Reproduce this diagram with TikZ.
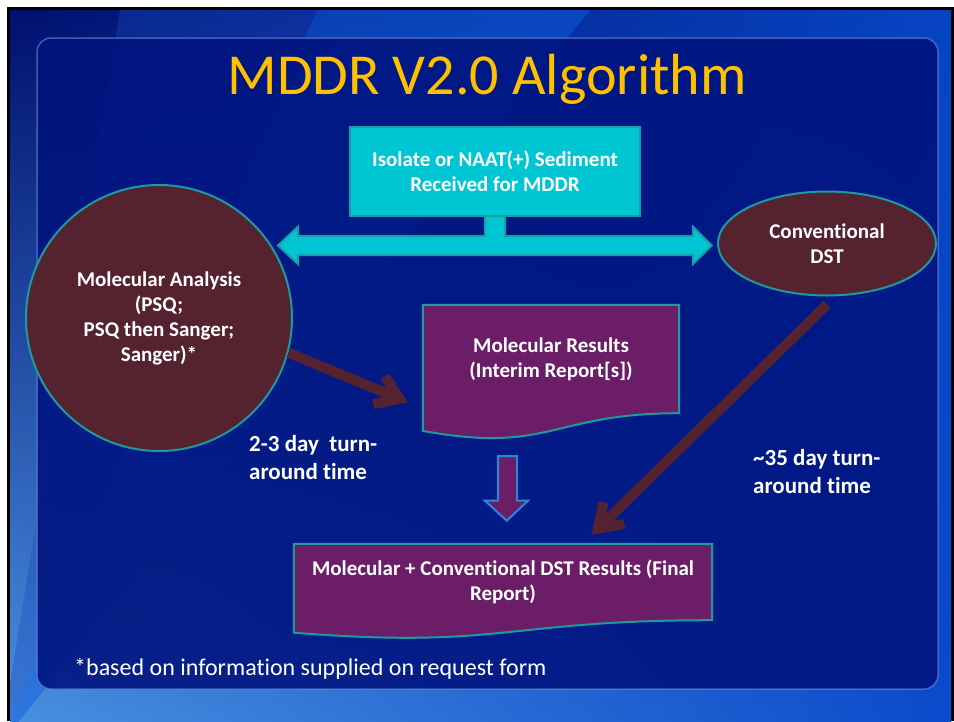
\documentclass[tikz,border=0pt]{standalone}
\usepackage{fontspec}
\setmainfont{Carlito}[Ligatures=NoCommon]
\usetikzlibrary{arrows.meta,calc,shapes.geometric,shadings}
\pgfdeclarelayer{slide}
\pgfdeclarelayer{shapes}
\pgfsetlayers{slide,shapes,main}
\definecolor{navy}{HTML}{00106E}
\definecolor{bgur}{HTML}{0744C4}
\definecolor{bgll}{HTML}{4A90E0}
\definecolor{bglr}{HTML}{0B4ACB}
\definecolor{innerblue}{HTML}{00137E}
\definecolor{edgeblue}{HTML}{6A88D8}
\definecolor{gold}{HTML}{FFC000}
\definecolor{cyanbox}{HTML}{00C5D3}
\definecolor{cyanedge}{HTML}{1A9EA8}
\definecolor{maroon}{HTML}{55222F}
\definecolor{plum}{HTML}{6B1D68}
\definecolor{tealedge}{HTML}{1C9AA2}
\definecolor{bluedge}{HTML}{2A86D8}
\definecolor{rayA}{HTML}{1A4AC0}
\definecolor{rayB}{HTML}{1060E0}
\tikzset{
  boldtxt/.style={font=\fontsize{21}{25}\selectfont\bfseries, text=white, align=center, inner sep=0pt},
  timetxt/.style={font=\fontsize{23}{28}\selectfont\bfseries, text=white, inner sep=0pt, anchor=base west},
  shapeedge/.style={draw=tealedge, line width=2pt},
  bigarrow/.style={draw=maroon, line width=10pt, -{Straight Barb[length=22pt, width=30pt]}},
}
\begin{document}
\begin{tikzpicture}[x=1pt, y=-1pt]
\useasboundingbox (0,0) rectangle (954,721);
\begin{pgfonlayer}{slide}
  \fill[white] (0,0) rectangle (954,721);
  \fill[black] (7,7) rectangle (954,721);
  \shade[upper left=navy, upper right=bgur, lower left=bgll, lower right=bglr]
        (10,10) rectangle (951,721);
  \begin{scope}
    \clip (10,10) rectangle (951,721);
    \fill[rayA, opacity=0.35] (0,745) -- (120,10) -- (317,10) -- cycle;
    \fill[rayB, opacity=0.5] (0,745) -- (317,10) -- (590,10) -- cycle;
  \end{scope}
  \draw[rounded corners=14pt, fill=innerblue, fill opacity=0.88, draw=edgeblue, draw opacity=0.6, line width=1.5pt]
        (37,38) rectangle (938,689);
\end{pgfonlayer}

\node[font=\fontsize{58}{70}\selectfont, text=gold, anchor=base, inner sep=0pt] (title) at (487,94) {MDDR V2.0 Algorithm};

\node[boldtxt, draw=cyanedge, fill=cyanbox, line width=2pt, minimum width=290pt, minimum height=89pt] (src) at (495,171.5)
  {Isolate or NAAT(+) Sediment\\Received for MDDR};

\node[boldtxt, circle, shapeedge, fill=maroon, minimum size=266pt] (ma) at (159,318)
  {Molecular Analysis\\(PSQ;\\PSQ then Sanger;\\Sanger)*};

\node[boldtxt, ellipse, shapeedge, fill=maroon, minimum width=218pt, minimum height=104pt] (cd) at (827,243.5)
  {Conventional\\DST};

\node[boldtxt, minimum width=256pt, minimum height=108pt] (mr) at (551,359)
  {Molecular Results\\(Interim Report[s])};

\node[boldtxt, minimum width=418pt, minimum height=76pt] (fin) at (503,582)
  {Molecular + Conventional DST Results (Final\\Report)};

\begin{pgfonlayer}{shapes}
  \path[fill=plum, shapeedge] (mr.north west) -- (mr.north east) -- (mr.south east)
    .. controls (mr.south) and ($(mr.south)+(0,41)$) .. ($(mr.south west)+(0,17.7)$) -- cycle;
  \path[fill=plum, shapeedge] (fin.north west) -- (fin.north east) -- (fin.south east)
    .. controls (fin.south) and ($(fin.south)+(0,29)$) .. ($(fin.south west)+(0,12.5)$) -- cycle;
  % cyan stem and double arrow
  \path[fill=cyanbox, draw=cyanedge, line width=2pt]
    (485,216) -- (485,236) -- (298,236) -- (298,226.7) -- (278,245.5) -- (298,264) -- (298,255)
    -- (693,255) -- (693,264) -- (711.7,245.5) -- (693,226.7) -- (693,236) -- (505,236) -- (505,216) -- cycle;
  % purple block arrow
  \path[fill=plum, draw=bluedge, line width=2pt]
    (498,456) -- (517,456) -- (517,500.7) -- (528,500.7) -- (506.7,520.7) -- (485,500.7) -- (498,500.7) -- cycle;
\end{pgfonlayer}

\draw[bigarrow] (ma.-15) -- ($(mr.south west)+(-15,-11)$);
\draw[bigarrow] ($(cd.south)+(0,8)$) -- ($(fin.north west)!0.712!(fin.north east)+(0,-9)$);

\node[timetxt] (t1) at (249,451) {\begin{tabular}[t]{@{}l@{}}2-3 day\ \ turn-\\around time\end{tabular}};
\node[timetxt] (t2) at (753,465) {\begin{tabular}[t]{@{}l@{}}\textasciitilde35 day turn-\\around time\end{tabular}};

\node[font=\fontsize{24}{29}\selectfont, text=white, anchor=base west, inner sep=0pt] (note) at (74,675)
  {*based on information supplied on request form};
\end{tikzpicture}
\end{document}
